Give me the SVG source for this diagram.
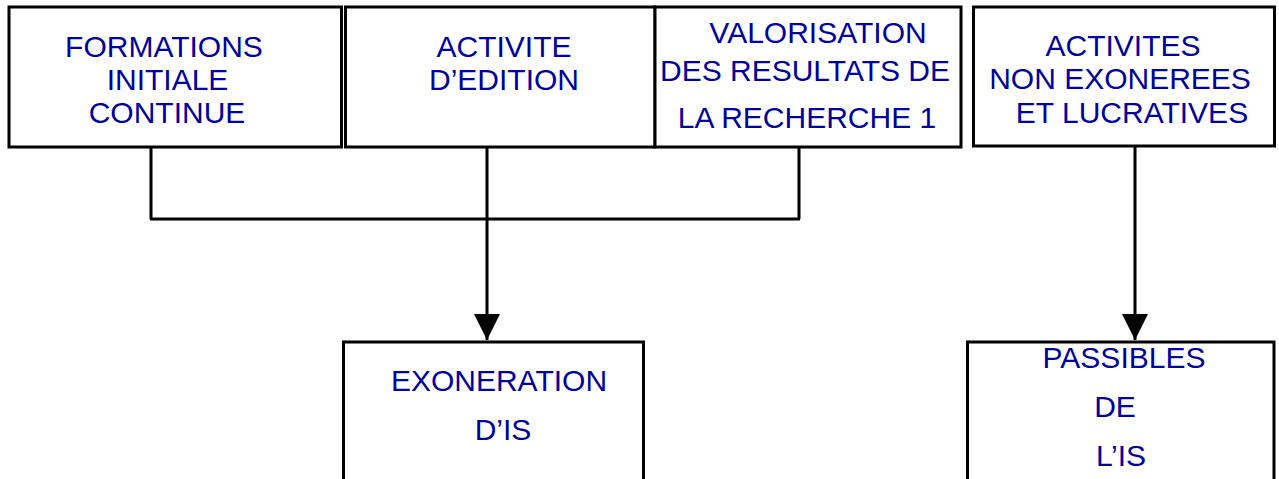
<svg xmlns="http://www.w3.org/2000/svg" width="1279" height="479" viewBox="0 0 1279 479">
<style>
.box{fill:#fff;stroke:#000;stroke-width:3}
.t{font-family:"Liberation Sans",Arial,sans-serif;font-size:30px;fill:#00009C;text-anchor:middle}
.c{fill:none;stroke:#000;stroke-width:3}
</style>
<defs>
<marker id="ah" markerUnits="userSpaceOnUse" markerWidth="28" markerHeight="28" viewBox="0 0 28 28" refX="26" refY="14" orient="auto">
<path d="M0,1 L26,14 L0,27 Z" fill="#000"/>
</marker>
</defs>
<rect x="0" y="0" width="1279" height="479" fill="#fff"/>
<g id="connectors">
<path class="c" d="M151,147 V219 M799,147 V219 M150,219 H800"/>
<path class="c" d="M487,147 V340" marker-end="url(#ah)"/>
<path class="c" d="M1135,146 V340" marker-end="url(#ah)"/>
</g>
<g id="n1">
<rect class="box" x="9" y="7" width="332.5" height="140"/>
<text class="t" x="164" y="57">FORMATIONS</text>
<text class="t" x="167.5" y="90">INITIALE</text>
<text class="t" x="167" y="123">CONTINUE</text>
</g>
<g id="n2">
<rect class="box" x="345.5" y="7" width="309.5" height="140"/>
<text class="t" x="504" y="57">ACTIVITE</text>
<text class="t" x="504" y="90">D’EDITION</text>
</g>
<g id="n3">
<rect class="box" x="655" y="7" width="306" height="140"/>
<text class="t" x="818" y="43">VALORISATION</text>
<text class="t" x="805" y="81">DES RESULTATS DE</text>
<text class="t" x="807" y="128">LA RECHERCHE 1</text>
</g>
<g id="n4">
<rect class="box" x="973.5" y="7" width="301" height="139"/>
<text class="t" x="1123" y="56">ACTIVITES</text>
<text class="t" x="1120" y="89">NON EXONEREES</text>
<text class="t" x="1132" y="123">ET LUCRATIVES</text>
</g>
<g id="n5">
<rect class="box" x="343.5" y="342" width="300" height="150"/>
<text class="t" x="499" y="391">EXONERATION</text>
<text class="t" x="503" y="440">D’IS</text>
</g>
<g id="n6">
<rect class="box" x="967.5" y="342" width="306.5" height="150"/>
<text class="t" x="1124" y="368">PASSIBLES</text>
<text class="t" x="1115" y="417">DE</text>
<text class="t" x="1121" y="466">L’IS</text>
</g>
</svg>
